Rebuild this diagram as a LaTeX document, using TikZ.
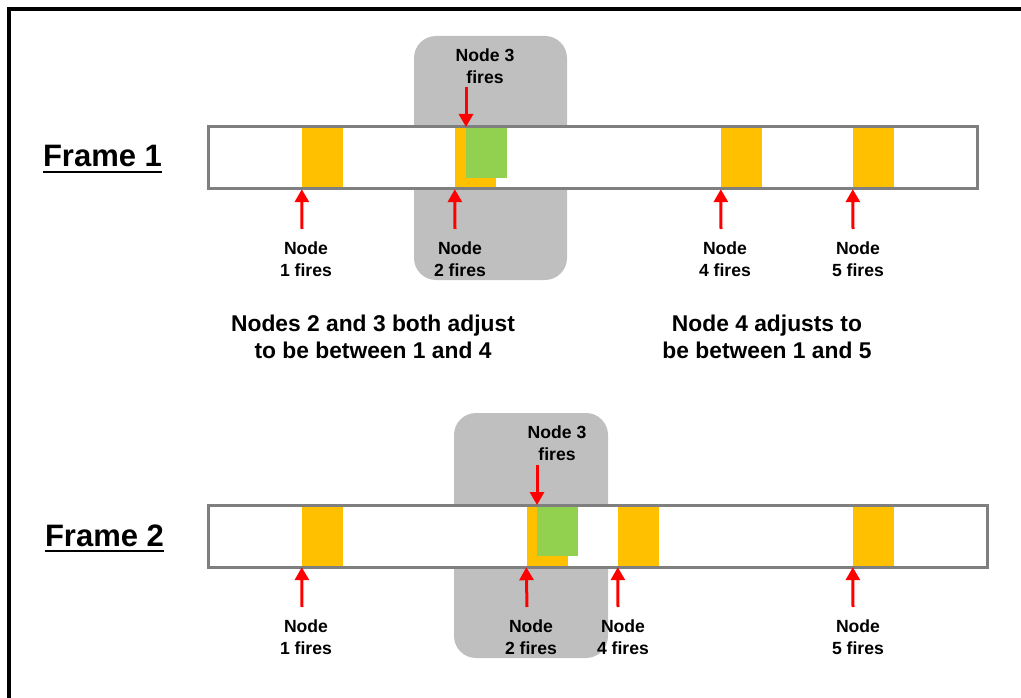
\documentclass[tikz,border=0pt]{standalone}
\usepackage{fontspec}
\setmainfont{Liberation Sans}
\usetikzlibrary{arrows.meta}
\definecolor{barorange}{HTML}{FFC000}
\definecolor{bargreen}{HTML}{92D050}
\definecolor{shade}{HTML}{BFBFBF}
\definecolor{rim}{HTML}{7F7F7F}
\tikzset{
  track/.style={draw=rim, line width=3, fill=white},
  slot/.style={fill=barorange, inner sep=0, minimum width=41, minimum height=62},
  slotgreen/.style={fill=bargreen, inner sep=0, minimum width=41, minimum height=51},
  zone/.style={fill=shade, rounded corners=22},
  fire/.style={draw=red, line width=3, -{Triangle[width=14,length=13]}},
  lbl/.style={font=\bfseries\fontsize{17.6}{22}\selectfont, align=center, inner sep=0},
  note/.style={font=\bfseries\fontsize{22.8}{27}\selectfont, align=center, inner sep=0},
  title/.style={font=\bfseries\fontsize{31}{36}\selectfont, inner sep=0, anchor=base}
}
\begin{document}
\begin{tikzpicture}[x=1pt,y=-1pt]
\useasboundingbox (0,0) rectangle (1021,698);
% outer frame
\draw[line width=4] (9,698) -- (9,9) -- (1021,9);

% ---------- Frame 1 ----------
\node[title] (t1) at (102.5,167) {Frame 1};
\draw[line width=2.5] ([yshift=-5]t1.base west) -- ([yshift=-5]t1.base east);
\fill[zone] (414,36) rectangle (567,280);
\fill[white] (208,127) rectangle (977,189);
\node[slot] (a1) at (322.5,158) {};
\node[slot] (a2) at (475.5,158) {};
\node[slot] (a4) at (741.5,158) {};
\node[slot] (a5) at (873.5,158) {};
\node[slotgreen, anchor=north west] (a3) at (466,127) {};
\draw[track, fill=none] (208,127) rectangle (977,189);

\coordinate (ta1) at (302,229);
\coordinate (ta2) at (455,229);
\coordinate (ta4) at (721,229);
\coordinate (ta5) at (853,229);
\coordinate (ta3) at (466,87);
\draw[fire] (ta1) -- (a1.south west);
\draw[fire] (ta2) -- (a2.south west);
\draw[fire] (ta4) -- (a4.south west);
\draw[fire] (ta5) -- (a5.south west);
\draw[fire] (ta3) -- (a3.north west);

\node[lbl] (la1) at (306,259) {Node\\1 fires};
\node[lbl] (la2) at (460,259) {Node\\2 fires};
\node[lbl] (la4) at (725,259) {Node\\4 fires};
\node[lbl] (la5) at (858,259) {Node\\5 fires};
\node[lbl] (la3) at (485,66) {Node 3\\fires};

\node[note] (n1) at (373,337) {Nodes 2 and 3 both adjust\\to be between 1 and 4};
\node[note] (n2) at (767,337) {Node 4 adjusts to\\be between 1 and 5};

% ---------- Frame 2 ----------
\node[title] (t2) at (104.5,546) {Frame 2};
\draw[line width=2.5] ([yshift=-5]t2.base west) -- ([yshift=-5]t2.base east);
\fill[zone] (454,413) rectangle (608,658);
\fill[white] (208,505) rectangle (987,567);
\node[slot] (b1) at (322.5,536) {};
\node[slot] (b2) at (547,536) {};
\node[slot] (b4) at (638.5,536) {};
\node[slot] (b5) at (873.5,536) {};
\node[slotgreen, anchor=north west] (b3) at (537,505) {};
\draw[track, fill=none] (208,505) rectangle (987,567);

\coordinate (tb1) at (302,607);
\coordinate (tb2) at (527,607);
\coordinate (tb4) at (618,607);
\coordinate (tb5) at (853,607);
\coordinate (tb3) at (537,465);
\draw[fire] (tb1) -- (b1.south west);
\draw[fire] (tb2) -- (b2.south west);
\draw[fire] (tb4) -- (b4.south west);
\draw[fire] (tb5) -- (b5.south west);
\draw[fire] (tb3) -- (b3.north west);

\node[lbl] (lb1) at (306,637) {Node\\1 fires};
\node[lbl] (lb2) at (531,637) {Node\\2 fires};
\node[lbl] (lb4) at (623,637) {Node\\4 fires};
\node[lbl] (lb5) at (858,637) {Node\\5 fires};
\node[lbl] (lb3) at (557,443) {Node 3\\fires};
\end{tikzpicture}
\end{document}
